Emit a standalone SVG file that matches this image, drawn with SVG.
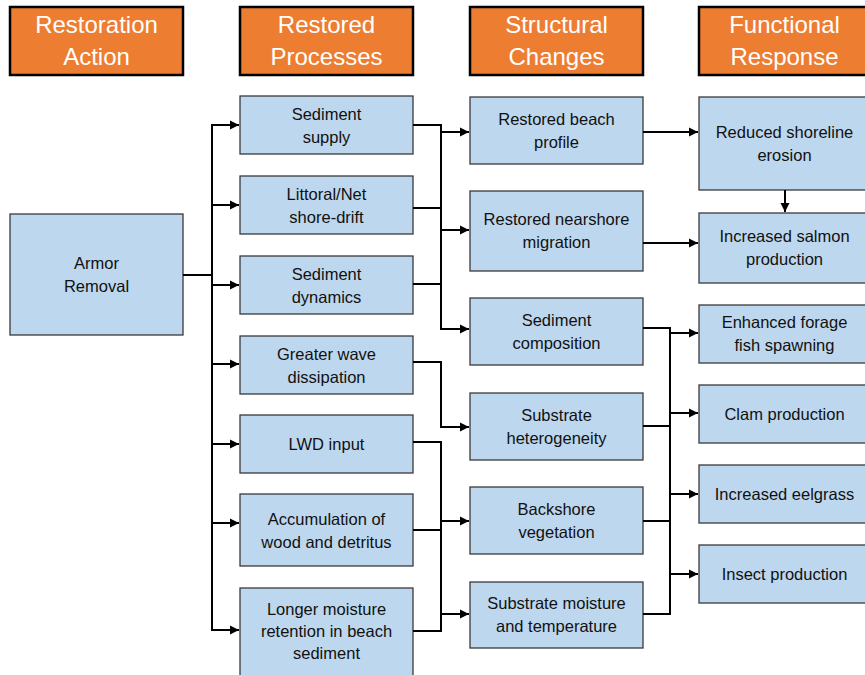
<svg xmlns="http://www.w3.org/2000/svg" width="865" height="675" viewBox="0 0 865 675">
  <style>
    .hdr rect { fill: #ED7D31; stroke: #000; stroke-width: 2.5; }
    .hdr text { fill: #fff; font-family: "Liberation Sans", Arial, sans-serif; font-size: 24px; text-anchor: middle; }
    .box rect { fill: #BDD7EE; stroke: #3a3a3a; stroke-width: 1.3; }
    .box text { fill: #111; font-family: "Liberation Sans", Arial, sans-serif; font-size: 16.5px; text-anchor: middle; }
    .wire { fill: none; stroke: #000; stroke-width: 2; }
    .arr { fill: none; stroke: #000; stroke-width: 2; marker-end: url(#head); }
  </style>
  <defs>
    <marker id="head" viewBox="0 0 10 10" refX="10" refY="5" markerWidth="9" markerHeight="11" markerUnits="userSpaceOnUse" orient="auto">
      <polygon points="0,0 10,5 0,10" fill="#000"/>
    </marker>
  </defs>
  <rect width="865" height="675" fill="#fff"/>

  <!-- column headers -->
  <g id="h-action" class="hdr"><rect x="10" y="7" width="173" height="68"/><text x="96.5" y="33">Restoration</text><text x="96.5" y="65">Action</text></g>
  <g id="h-processes" class="hdr"><rect x="240" y="7" width="173" height="68"/><text x="326.5" y="33">Restored</text><text x="326.5" y="65">Processes</text></g>
  <g id="h-structural" class="hdr"><rect x="470" y="7" width="173" height="68"/><text x="556.5" y="33">Structural</text><text x="556.5" y="65">Changes</text></g>
  <g id="h-functional" class="hdr"><rect x="699" y="7" width="171" height="68"/><text x="784.5" y="33">Functional</text><text x="784.5" y="65">Response</text></g>

  <!-- restoration action -->
  <g id="armor-removal" class="box"><rect x="10" y="214" width="173" height="121"/><text x="96.5" y="269">Armor</text><text x="96.5" y="292">Removal</text></g>

  <!-- restored processes -->
  <g id="sediment-supply" class="box"><rect x="240" y="96" width="173" height="58"/><text x="326.5" y="120">Sediment</text><text x="326.5" y="143">supply</text></g>
  <g id="littoral-drift" class="box"><rect x="240" y="176" width="173" height="58"/><text x="326.5" y="200">Littoral/Net</text><text x="326.5" y="223">shore-drift</text></g>
  <g id="sediment-dynamics" class="box"><rect x="240" y="256" width="173" height="58"/><text x="326.5" y="280">Sediment</text><text x="326.5" y="303">dynamics</text></g>
  <g id="wave-dissipation" class="box"><rect x="240" y="336" width="173" height="58"/><text x="326.5" y="360">Greater wave</text><text x="326.5" y="383">dissipation</text></g>
  <g id="lwd-input" class="box"><rect x="240" y="415" width="173" height="58"/><text x="326.5" y="450">LWD input</text></g>
  <g id="wood-accumulation" class="box"><rect x="240" y="494" width="173" height="72"/><text x="326.5" y="525">Accumulation of</text><text x="326.5" y="548">wood and detritus</text></g>
  <g id="moisture-retention" class="box"><rect x="240" y="588" width="173" height="100"/><text x="326.5" y="615">Longer moisture</text><text x="326.5" y="637">retention in beach</text><text x="326.5" y="659">sediment</text></g>

  <!-- structural changes -->
  <g id="beach-profile" class="box"><rect x="470" y="97" width="173" height="67"/><text x="556.5" y="125">Restored beach</text><text x="556.5" y="148">profile</text></g>
  <g id="nearshore-migration" class="box"><rect x="470" y="191" width="173" height="80"/><text x="556.5" y="225">Restored nearshore</text><text x="556.5" y="248">migration</text></g>
  <g id="sediment-composition" class="box"><rect x="470" y="298" width="173" height="67"/><text x="556.5" y="326">Sediment</text><text x="556.5" y="349">composition</text></g>
  <g id="substrate-heterogeneity" class="box"><rect x="470" y="393" width="173" height="67"/><text x="556.5" y="421">Substrate</text><text x="556.5" y="444">heterogeneity</text></g>
  <g id="backshore-vegetation" class="box"><rect x="470" y="487" width="173" height="67"/><text x="556.5" y="515">Backshore</text><text x="556.5" y="538">vegetation</text></g>
  <g id="substrate-moisture" class="box"><rect x="470" y="582" width="173" height="66"/><text x="556.5" y="609">Substrate moisture</text><text x="556.5" y="632">and temperature</text></g>

  <!-- functional response -->
  <g id="shoreline-erosion" class="box"><rect x="699" y="97" width="171" height="93"/><text x="784.5" y="138">Reduced shoreline</text><text x="784.5" y="161">erosion</text></g>
  <g id="salmon-production" class="box"><rect x="699" y="213" width="171" height="70"/><text x="784.5" y="242">Increased salmon</text><text x="784.5" y="265">production</text></g>
  <g id="forage-fish" class="box"><rect x="699" y="305" width="171" height="58"/><text x="784.5" y="328">Enhanced forage</text><text x="784.5" y="351">fish spawning</text></g>
  <g id="clam-production" class="box"><rect x="699" y="385" width="171" height="58"/><text x="784.5" y="420">Clam production</text></g>
  <g id="eelgrass" class="box"><rect x="699" y="465" width="171" height="58"/><text x="784.5" y="500">Increased eelgrass</text></g>
  <g id="insect-production" class="box"><rect x="699" y="545" width="171" height="58"/><text x="784.5" y="580">Insect production</text></g>

  <!-- connectors -->
  <g id="connectors">
    <!-- action to processes -->
    <path class="wire" d="M183,275 H212 M212,124 V631"/>
    <path class="arr" d="M211,125 H239"/>
    <path class="arr" d="M211,205 H239"/>
    <path class="arr" d="M211,285 H239"/>
    <path class="arr" d="M211,364 H239"/>
    <path class="arr" d="M211,444 H239"/>
    <path class="arr" d="M211,523 H239"/>
    <path class="arr" d="M211,630 H239"/>

    <!-- processes to structural changes -->
    <path class="wire" d="M413,125 H441 M413,208 H441 M413,284 H441 M441,124 V330"/>
    <path class="arr" d="M440,132 H469"/>
    <path class="arr" d="M440,230 H469"/>
    <path class="arr" d="M440,329 H469"/>
    <path class="arr" d="M413,362 H441 V427 H469"/>
    <path class="wire" d="M413,442 H441 M413,530 H441 M413,631 H441 M441,441 V632"/>
    <path class="arr" d="M440,521 H469"/>
    <path class="arr" d="M440,614 H469"/>

    <!-- structural changes to functional response -->
    <path class="arr" d="M643,132 H698"/>
    <path class="arr" d="M643,243 H698"/>
    <path class="arr" d="M785,190 V212"/>
    <path class="wire" d="M643,328 H670 M643,426 H670 M643,521 H670 M643,614 H670 M670,327 V615"/>
    <path class="arr" d="M669,333 H698"/>
    <path class="arr" d="M669,413 H698"/>
    <path class="arr" d="M669,494 H698"/>
    <path class="arr" d="M669,574 H698"/>
  </g>
</svg>
